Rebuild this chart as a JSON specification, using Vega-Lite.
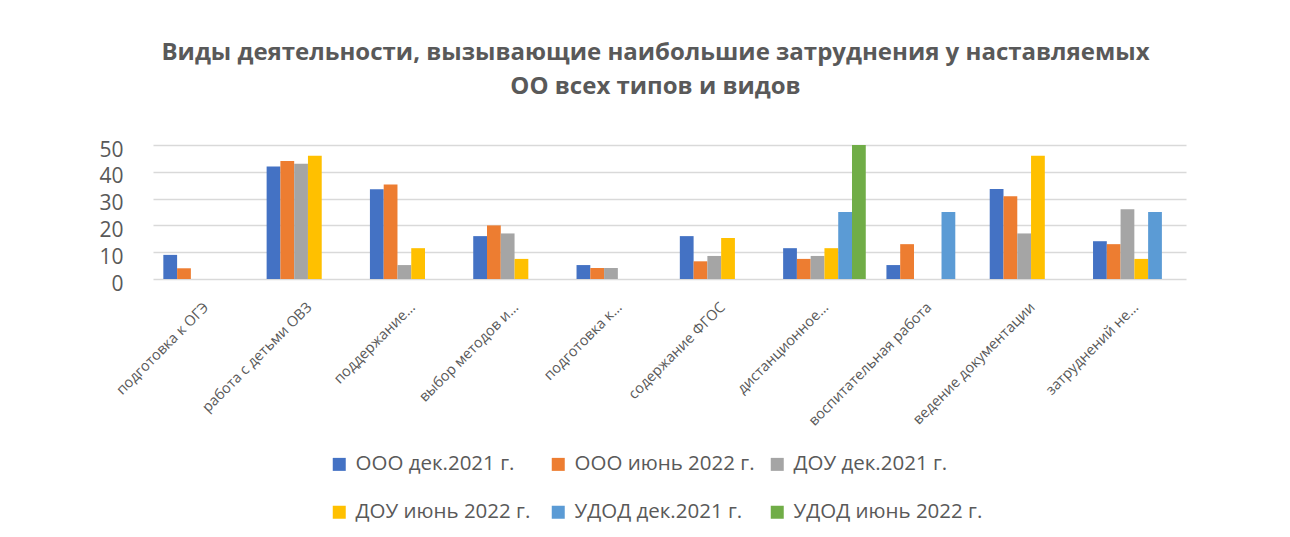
{
  "$schema": "https://vega.github.io/schema/vega-lite/v6.json",
  "autosize": {"type": "none"},
  "width": 1033,
  "height": 134,
  "padding": {"left": 153, "top": 145, "right": 104, "bottom": 258},
  "background": "white",
  "title": {
    "text": ["Виды деятельности, вызывающие наибольшие затруднения у наставляемых", "ОО всех типов и видов"],
    "font": "Open Sans",
    "fontSize": 24,
    "fontWeight": "bold",
    "color": "#595959",
    "anchor": "middle",
    "frame": "group",
    "dx": -14,
    "offset": 40,
    "lineHeight": 34
  },
  "data": {
    "values": [
      {"cat": "подготовка к ОГЭ", "series": "ООО дек.2021 г.", "value": 9},
      {"cat": "подготовка к ОГЭ", "series": "ООО июнь 2022 г.", "value": 4},
      {"cat": "работа с детьми ОВЗ", "series": "ООО дек.2021 г.", "value": 42},
      {"cat": "работа с детьми ОВЗ", "series": "ООО июнь 2022 г.", "value": 44},
      {"cat": "работа с детьми ОВЗ", "series": "ДОУ дек.2021 г.", "value": 43},
      {"cat": "работа с детьми ОВЗ", "series": "ДОУ июнь 2022 г.", "value": 46},
      {"cat": "поддержание…", "series": "ООО дек.2021 г.", "value": 33.5},
      {"cat": "поддержание…", "series": "ООО июнь 2022 г.", "value": 35.3},
      {"cat": "поддержание…", "series": "ДОУ дек.2021 г.", "value": 5.2},
      {"cat": "поддержание…", "series": "ДОУ июнь 2022 г.", "value": 11.5},
      {"cat": "выбор методов и…", "series": "ООО дек.2021 г.", "value": 16},
      {"cat": "выбор методов и…", "series": "ООО июнь 2022 г.", "value": 20},
      {"cat": "выбор методов и…", "series": "ДОУ дек.2021 г.", "value": 17},
      {"cat": "выбор методов и…", "series": "ДОУ июнь 2022 г.", "value": 7.5},
      {"cat": "подготовка к…", "series": "ООО дек.2021 г.", "value": 5.2},
      {"cat": "подготовка к…", "series": "ООО июнь 2022 г.", "value": 4.1},
      {"cat": "подготовка к…", "series": "ДОУ дек.2021 г.", "value": 4.1},
      {"cat": "подготовка к…", "series": "ДОУ июнь 2022 г.", "value": 0},
      {"cat": "содержание ФГОС", "series": "ООО дек.2021 г.", "value": 16},
      {"cat": "содержание ФГОС", "series": "ООО июнь 2022 г.", "value": 6.6},
      {"cat": "содержание ФГОС", "series": "ДОУ дек.2021 г.", "value": 8.6},
      {"cat": "содержание ФГОС", "series": "ДОУ июнь 2022 г.", "value": 15.3},
      {"cat": "дистанционное…", "series": "ООО дек.2021 г.", "value": 11.5},
      {"cat": "дистанционное…", "series": "ООО июнь 2022 г.", "value": 7.5},
      {"cat": "дистанционное…", "series": "ДОУ дек.2021 г.", "value": 8.6},
      {"cat": "дистанционное…", "series": "ДОУ июнь 2022 г.", "value": 11.5},
      {"cat": "дистанционное…", "series": "УДОД дек.2021 г.", "value": 25},
      {"cat": "дистанционное…", "series": "УДОД июнь 2022 г.", "value": 50},
      {"cat": "воспитательная работа", "series": "ООО дек.2021 г.", "value": 5.2},
      {"cat": "воспитательная работа", "series": "ООО июнь 2022 г.", "value": 13},
      {"cat": "воспитательная работа", "series": "УДОД дек.2021 г.", "value": 25},
      {"cat": "воспитательная работа", "series": "УДОД июнь 2022 г.", "value": 0},
      {"cat": "ведение документации", "series": "ООО дек.2021 г.", "value": 33.6},
      {"cat": "ведение документации", "series": "ООО июнь 2022 г.", "value": 30.9},
      {"cat": "ведение документации", "series": "ДОУ дек.2021 г.", "value": 17},
      {"cat": "ведение документации", "series": "ДОУ июнь 2022 г.", "value": 46},
      {"cat": "затруднений не…", "series": "ООО дек.2021 г.", "value": 14.1},
      {"cat": "затруднений не…", "series": "ООО июнь 2022 г.", "value": 13},
      {"cat": "затруднений не…", "series": "ДОУ дек.2021 г.", "value": 26},
      {"cat": "затруднений не…", "series": "ДОУ июнь 2022 г.", "value": 7.5},
      {"cat": "затруднений не…", "series": "УДОД дек.2021 г.", "value": 25},
      {"cat": "затруднений не…", "series": "УДОД июнь 2022 г.", "value": 0}
    ]
  },
  "mark": {"type": "bar"},
  "encoding": {
    "x": {
      "field": "cat",
      "type": "nominal",
      "sort": null,
      "title": null,
      "scale": {"paddingInner": 0.2, "paddingOuter": 0.1},
      "axis": {
        "labelAngle": -45,
        "labelFont": "Open Sans",
        "labelFontSize": 14.5,
        "labelColor": "#595959",
        "labelOffset": -3,
        "labelPadding": 21,
        "domain": false,
        "ticks": false
      }
    },
    "xOffset": {
      "field": "series",
      "type": "nominal",
      "sort": ["ООО дек.2021 г.", "ООО июнь 2022 г.", "ДОУ дек.2021 г.", "ДОУ июнь 2022 г.", "УДОД дек.2021 г.", "УДОД июнь 2022 г."],
      "scale": {"paddingInner": 0}
    },
    "y": {
      "field": "value",
      "type": "quantitative",
      "title": null,
      "scale": {"domain": [0, 50]},
      "axis": {
        "values": [0, 10, 20, 30, 40, 50],
        "labelFont": "Open Sans",
        "labelFontSize": 21,
        "labelColor": "#595959",
        "labelPadding": 30,
        "labelOffset": 5,
        "domain": false,
        "ticks": false,
        "gridColor": "#d9d9d9",
        "gridWidth": 1.5
      }
    },
    "color": {
      "field": "series",
      "type": "nominal",
      "title": null,
      "scale": {
        "domain": ["ООО дек.2021 г.", "ООО июнь 2022 г.", "ДОУ дек.2021 г.", "ДОУ июнь 2022 г.", "УДОД дек.2021 г.", "УДОД июнь 2022 г."],
        "range": ["#4472C4", "#ED7D31", "#A5A5A5", "#FFC000", "#5B9BD5", "#70AD47"]
      },
      "legend": {
        "orient": "none",
        "legendX": 176,
        "legendY": 309,
        "direction": "horizontal",
        "columns": 3,
        "gridAlign": "all",
        "symbolType": "square",
        "symbolSize": 169,
        "symbolStrokeWidth": 0,
        "labelFont": "Open Sans",
        "labelFontSize": 20.5,
        "labelColor": "#595959",
        "labelLimit": 400,
        "columnPadding": 3,
        "rowPadding": 27,
        "labelOffset": 6
      }
    }
  },
  "config": {
    "view": {"stroke": null}
  }
}
